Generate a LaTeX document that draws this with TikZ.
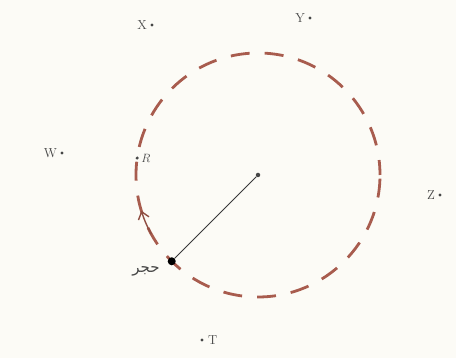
\documentclass[tikz,border=0pt]{standalone}
\usepackage{fontspec}
\newfontfamily\arabicfont[Script=Arabic]{DejaVu Sans}
\TeXXeTstate=1
\usetikzlibrary{positioning,arrows.meta,calc}
\definecolor{ringred}{RGB}{168,92,78}
\definecolor{inkgray}{RGB}{70,70,70}
\definecolor{paper}{RGB}{252,251,246}

\begin{document}
\begin{tikzpicture}[x=1pt,y=1pt,
    pt/.style={circle,fill=inkgray,inner sep=0pt,minimum size=3.4pt},
    lbl/.style={text=inkgray,font=\fontsize{13}{15}\selectfont,inner sep=1pt},
    ring/.style={draw=ringred,line width=2.8pt,dash pattern=on 19pt off 15pt}]
  \fill[paper] (0,0) rectangle (456,358);
  \useasboundingbox (0,0) rectangle (456,358);

  % path of the stone
  \coordinate (c) at (258,183);
  \draw[ring,dash phase=4pt] (c) circle[radius=122pt];
  \draw[ringred!85!black,line width=1.4pt,-{Straight Barb[length=7pt,width=11pt]}]
    (c) ++(209:122pt) arc[start angle=209,end angle=197,radius=122pt];

  \node[pt,minimum size=4.5pt] (ctr) at (c) {};
  \node[circle,fill=black,inner sep=0pt,minimum size=8pt] (stone) at ($(c)+(225:122pt)$) {};
  \node[pt] (r) at ($(c)+(172:122pt)$) {};
  \draw[inkgray!80!black,line width=0.8pt] (ctr) -- (stone);

  \node[lbl,below left=1pt and 8pt of stone,font=\fontsize{15}{17}\selectfont] {\arabicfont\beginR حجر\endR};
  \node[lbl,right=1pt of r,font=\fontsize{12}{14}\selectfont] {$R$};

  % points around
  \node[pt] (x) at (152,333) {};
  \node[pt] (y) at (310,340) {};
  \node[pt] (w) at (62,205) {};
  \node[pt] (z) at (440,163) {};
  \node[pt] (t) at (202,18) {};
  \node[lbl,left=2pt of x] {X};
  \node[lbl,left=2pt of y] {Y};
  \node[lbl,left=2pt of w] {W};
  \node[lbl,left=2pt of z] {Z};
  \node[lbl,right=3pt of t] {T};
\end{tikzpicture}
\end{document}
